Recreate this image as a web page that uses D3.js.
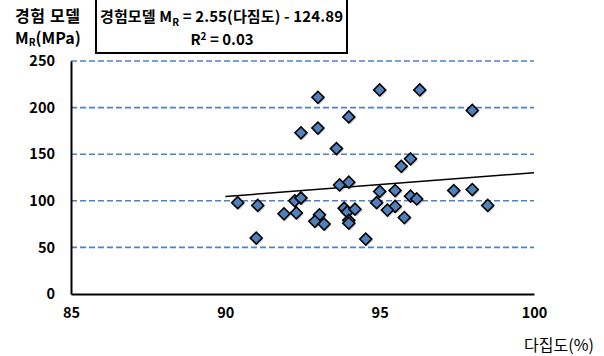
<!DOCTYPE html>
<html><head><meta charset="utf-8">
<script src="https://cdn.jsdelivr.net/npm/d3@7"></script>
<style>
body{margin:0;background:#fff;}
svg text{font-family:"Malgun Gothic","Noto Sans CJK KR",sans-serif;}
</style></head>
<body>
<svg id="chart" width="604" height="356"></svg>
<script>
const compaction = [90.4,91.05,91.0,91.9,92.25,92.45,92.3,93.05,92.9,93.2,93.85,93.95,94.2,94.0,94.0,94.55,93.7,94.0,92.45,93.0,93.0,93.6,94.0,95.0,96.3,98.0,95.7,96.0,95.0,95.5,94.9,95.5,95.25,95.8,96.0,96.2,97.4,98.0,98.5];
const modulus    = [98,95,60,86,100,103,87,85,78,75,92,88,91,79,76,59,117,120,173,211,178,156,190,219,219,197,137,145,110,111,98,94,90,82,105,102,111,112,95];
const yTicks = [0,50,100,150,200,250];
const xTicks = [85,90,95,100];
const slope = 2.55, intercept = -124.89;
const trendX = [90,100];

const svg = d3.select("#chart");
const x = d3.scaleLinear().domain([85,100]).range([71,534]);
const y = d3.scaleLinear().domain([0,250]).range([294,61]);

// gridlines
svg.append("g").selectAll("line").data(yTicks.filter(d=>d>0)).join("line")
  .attr("x1",x(85)).attr("x2",x(100)).attr("y1",d=>y(d)).attr("y2",d=>y(d))
  .attr("stroke","#4f81c7").attr("stroke-width",1.6).attr("stroke-dasharray","6,3");

// axes
const yAxis = d3.axisLeft(y).tickValues(yTicks).tickSize(0).tickPadding(16);
const gy = svg.append("g").attr("transform",`translate(${x(85)},0)`).call(yAxis);
gy.select(".domain").attr("stroke","#000").attr("stroke-width",2);
gy.selectAll("text").attr("font-size",14.5).attr("font-weight","bold").attr("fill","#000")
  .attr("font-family","'Noto Sans',sans-serif");
const xAxis = d3.axisBottom(x).tickValues(xTicks).tickSize(0).tickPadding(14);
const gx = svg.append("g").attr("transform",`translate(0,${y(0)})`).call(xAxis);
gx.select(".domain").attr("stroke","#000").attr("stroke-width",2.2);
gx.selectAll("text").attr("font-size",14.5).attr("font-weight","bold").attr("fill","#000")
  .attr("font-family","'Noto Sans',sans-serif");

// trend line
svg.append("line")
  .attr("x1",x(trendX[0])).attr("y1",y(slope*trendX[0]+intercept))
  .attr("x2",x(trendX[1])).attr("y2",y(slope*trendX[1]+intercept))
  .attr("stroke","#000").attr("stroke-width",1.5);

// points
const diamond = d3.symbol().type(d3.symbolSquare).size(72)();
const pts = d3.range(compaction.length).map(i=>({x:compaction[i],y:modulus[i]}));
svg.append("g").selectAll("path.sh").data(pts).join("path")
  .attr("d",diamond).attr("transform",d=>`translate(${x(d.x)+1.5},${y(d.y)+1.5}) rotate(45)`)
  .attr("fill","rgba(0,0,0,0.18)");
svg.append("g").selectAll("path.pt").data(pts).join("path")
  .attr("d",diamond).attr("transform",d=>`translate(${x(d.x)},${y(d.y)}) rotate(45)`)
  .attr("fill","#4f81bd").attr("stroke","#000").attr("stroke-width",1.6);

// axis titles
svg.append("text").attr("x",15).attr("y",22).attr("font-size",16).attr("font-weight","bold")
  .attr("textLength",65).attr("lengthAdjust","spacing").text("경험 모델");
const t2 = svg.append("text").attr("x",15).attr("y",44).attr("font-size",16).attr("font-weight","bold")
  .attr("font-family","'Noto Sans',sans-serif");
t2.append("tspan").text("M");
t2.append("tspan").attr("font-size",10).attr("dy",2).text("R");
t2.append("tspan").attr("dy",-2).text("(MPa)");
svg.append("text").attr("x",594).attr("y",351).attr("text-anchor","end").attr("font-size",16)
  .attr("textLength",70).attr("lengthAdjust","spacing").text("다집도(%)");

// equation box
svg.append("rect").attr("x",96).attr("y",-1).attr("width",251).attr("height",54)
  .attr("fill","#fff").attr("stroke","#000").attr("stroke-width",2);
const e1 = svg.append("text").attr("x",100).attr("y",22).attr("font-size",15).attr("font-weight","bold")
  .attr("textLength",243).attr("lengthAdjust","spacing");
e1.append("tspan").text("경험모델 M");
e1.append("tspan").attr("font-size",10).attr("dy",4).text("R");
e1.append("tspan").attr("dy",-4).text(` = ${slope}(다짐도) - ${-intercept}`);
const e2 = svg.append("text").attr("x",222).attr("y",45).attr("text-anchor","middle").attr("font-size",15).attr("font-weight","bold");
e2.append("tspan").text("R");
e2.append("tspan").attr("font-size",10).attr("dy",-5).text("2");
e2.append("tspan").attr("dy",5).text(" = 0.03");
</script>
</body></html>
